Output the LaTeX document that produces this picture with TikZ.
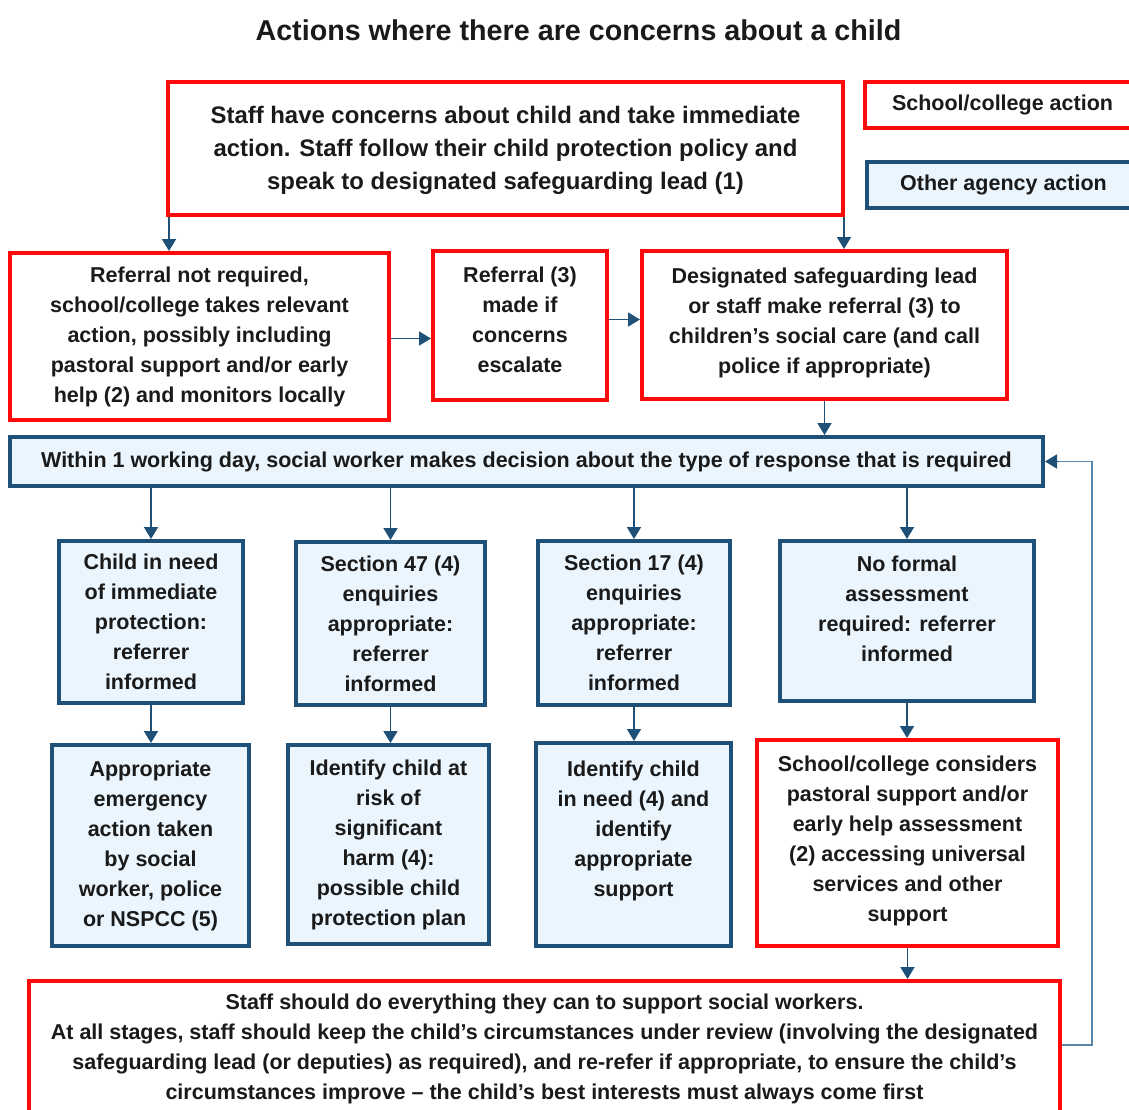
\documentclass[tikz,border=0pt]{standalone}
\usepackage{fontspec}
\setmainfont{Liberation Sans}
\usetikzlibrary{arrows.meta}
\definecolor{redb}{HTML}{FF0A0A}
\definecolor{blueb}{HTML}{1F5078}
\definecolor{bluef}{HTML}{EAF5FD}
\definecolor{fbline}{HTML}{5A87AA}
\definecolor{txt}{HTML}{1A1A1A}
\tikzset{
  base/.style={rectangle, line width=4pt, inner sep=0pt, align=center, text=txt,
    font=\fontsize{21.5}{30}\selectfont\bfseries},
  redbox/.style={base, draw=redb, fill=white},
  bluebox/.style={base, draw=blueb, fill=bluef},
  arr/.style={draw=blueb, line width=1.8pt, -{Triangle[length=12pt,width=14pt]}},
}
\begin{document}
\begin{tikzpicture}[x=1pt,y=-1pt]
\useasboundingbox (0,0) rectangle (1129,1109);
\clip (0,0) rectangle (1129,1109);
\node[font=\fontsize{28.7}{32}\selectfont\bfseries, text=txt] (title) at (578.5,30) {Actions where there are concerns about a child};

\node[redbox, minimum width=675pt, minimum height=133pt, font=\fontsize{23.9}{33}\selectfont\bfseries] (top) at (505.5,148.5)
 {Staff have concerns about child and take immediate\\action. Staff follow their child protection policy and\\speak to designated safeguarding lead (1)\\[-31pt]};
\node[redbox, minimum width=275pt, minimum height=46pt] (leg1) at (1002.5,105) {School/college action};
\node[bluebox, minimum width=273pt, minimum height=46pt] (leg2) at (1003.5,185) {Other agency action};

\node[redbox, minimum width=379pt, minimum height=167pt] (A) at (199.5,336.5)
 {Referral not required,\\school/college takes relevant\\action, possibly including\\pastoral support and/or early\\help (2) and monitors locally};
\node[redbox, minimum width=174pt, minimum height=149pt] (B) at (520,325.5)
 {Referral (3)\\made if\\concerns\\escalate\\[-19pt]};
\node[redbox, minimum width=365pt, minimum height=148pt] (C) at (824.5,325)
 {Designated safeguarding lead\\or staff make referral (3) to\\children's social care (and call\\police if appropriate)\\[-21pt]};

\node[bluebox, minimum width=1033pt, minimum height=49pt] (W) at (526.5,461.5)
 {Within 1 working day, social worker makes decision about the type of response that is required};

\node[bluebox, minimum width=184pt, minimum height=162pt] (D1) at (151,622)
 {Child in need\\of immediate\\protection:\\referrer\\informed};
\node[bluebox, minimum width=189pt, minimum height=163pt] (D2) at (390.5,623.5)
 {Section 47 (4)\\enquiries\\appropriate:\\referrer\\informed};
\node[bluebox, minimum width=192pt, minimum height=164pt] (D3) at (634,623)
 {Section 17 (4)\\enquiries\\appropriate:\\referrer\\informed};
\node[bluebox, minimum width=254pt, minimum height=160pt] (D4) at (907,621)
 {No formal\\assessment\\required: referrer\\informed\\[-6pt]};

\node[bluebox, minimum width=197pt, minimum height=201pt] (E1) at (150.5,845.5)
 {Appropriate\\emergency\\action taken\\by social\\worker, police\\or NSPCC (5)};
\node[bluebox, minimum width=201pt, minimum height=199pt] (E2) at (388.5,844.5)
 {Identify child at\\risk of\\significant\\harm (4):\\possible child\\protection plan};
\node[bluebox, minimum width=195pt, minimum height=203pt] (E3) at (633.5,844.5)
 {Identify child\\in need (4) and\\identify\\appropriate\\support\\[2pt]};
\node[redbox, minimum width=301pt, minimum height=206pt] (E4) at (907.5,843)
 {School/college considers\\pastoral support and/or\\early help assessment\\(2) accessing universal\\services and other\\support\\[-22pt]};

\node[redbox, minimum width=1031pt, minimum height=136pt, anchor=north] (F) at (544.5,979)
 {Staff should do everything they can to support social workers.\\At all stages, staff should keep the child's circumstances under review (involving the designated\\safeguarding lead (or deputies) as required), and re-refer if appropriate, to ensure the child's\\circumstances improve -- the child's best interests must always come first};

% arrows
\draw[arr] ([xshift=3pt]top.south west) -- ([xshift=3pt]top.south west |- A.north);
\draw[arr] ([xshift=-1pt]top.south east) -- ([xshift=-1pt]top.south east |- C.north);
\draw[arr] ([yshift=-2pt]A.east) -- ([yshift=-2pt]A.east -| B.west);
\draw[arr] ([yshift=6pt]B.east) -- ([yshift=6pt]B.east -| C.west);
\draw[arr] (C.south) -- (C.south |- W.north);
\foreach \d/\e in {D1/E1,D2/E2,D3/E3,D4/E4}{
  \draw[arr] (\d.north |- W.south) -- (\d.north);
  \draw[arr] (\d.south) -- (\d.south |- \e.north);
}
\draw[arr] (E4.south) -- (E4.south |- F.north);
\coordinate (fbr) at (1092,1045);
\draw[draw=fbline, line width=1.8pt] (F.east |- fbr) -- (fbr) -- (fbr |- W.east) -- ([xshift=14pt]W.east);
\draw[arr] ([xshift=14pt]W.east) -- (W.east);
\end{tikzpicture}
\end{document}
